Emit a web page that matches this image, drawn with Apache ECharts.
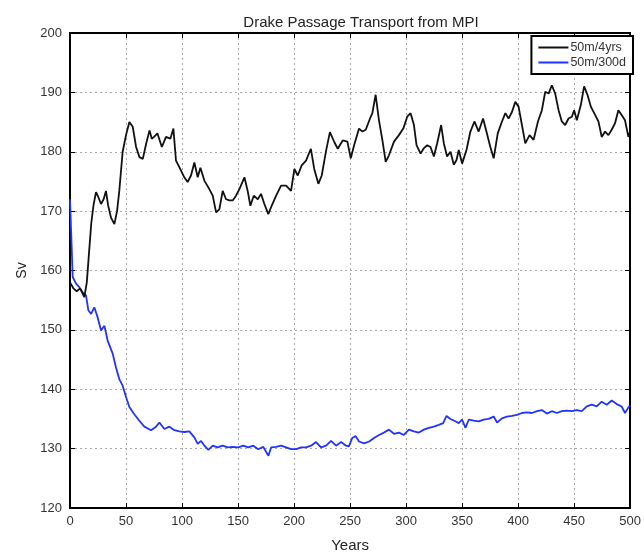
<!DOCTYPE html>
<html>
<head>
<meta charset="utf-8">
<script src="https://cdn.jsdelivr.net/npm/echarts@6/dist/echarts.min.js"></script>
<style>html,body{margin:0;padding:0;background:#fff;}#c{width:644px;height:558px;}</style>
</head>
<body>
<div id="c"></div>
<script>
var titleText = 'Drake Passage Transport from MPI';
var xTicks = [0, 50, 100, 150, 200, 250, 300, 350, 400, 450, 500];
var yTicks = [120, 130, 140, 150, 160, 170, 180, 190, 200];
var seriesNames = ['50m/4yrs', '50m/300d'];

var blackYears = [0,3,6,9,12.8,15,17,19,21,23.2,25,27.7,30,32.1,34,36.6,39.6,42,44,47,50,53,56,59,62,65,68,71,73,75,78,82,85.7,89.6,92.3,94.6,97.6,102,105,108,111,114,116.4,120,123.5,127.4,130.4,133.3,136.3,139.3,142.3,145.2,148.2,151.2,155.7,158.6,161,164,167.6,170.5,173.5,177,180,184,188.4,192.9,197.3,200.3,203.3,206.8,210.7,215,218,221.7,224.7,228.6,232,236,239,243.4,247.6,250.6,253.6,258,261,264,267.8,269.9,272.8,275.8,278.8,281.8,284.7,289.2,293.6,297.5,301,304,307,309.3,312.9,315.9,318.9,321.8,324.8,327.7,331.3,333.7,336.6,339.6,342.6,345,347,350,353.9,357.4,361,364.8,368.7,371.7,375.2,378.2,381.8,385.6,388.6,391.5,394.5,397.5,400.4,403.4,406.4,410.2,413.8,417.7,421.2,424.2,427.2,430.1,433.1,436.1,439,442,445,448,450,452.4,456,458.9,461.9,464.9,468.7,471.7,474.6,477.6,480.6,483.5,486.5,489.5,492.4,495.4,498.4,500];
var blackValues = [158,157,156.5,157,155.5,158,163,168,171,173.2,172.5,171.2,172,173.4,171,168.9,167.8,170,173.4,180,182.8,185,184.2,180.8,179.1,178.8,181.4,183.6,182.2,182.5,183.1,180.8,182.5,182.2,183.9,178.5,177.4,175.7,174.9,176,178.2,175.7,177.3,175.1,174,172.6,169.8,170.3,173.4,172,171.8,171.8,172.6,173.7,175.7,173.4,170.9,172.6,172,172.9,171.2,169.5,170.9,172.6,174.3,174.3,173.4,177.1,176,177.7,178.5,180.5,177.1,174.6,176,180.2,183.3,181.6,180.5,181.9,181.7,178.9,181.1,183.9,183.4,183.7,185.6,186.5,189.6,185.3,182,178.3,179.4,181.7,182.8,183.9,185.9,186.5,184.5,181.1,179.7,180.6,181.1,180.8,179.2,181.4,184.5,181.4,179.2,180,177.8,178.6,180.3,178,180.3,183.4,185.1,183.4,185.6,183.4,180.8,178.9,183.1,185.1,186.5,185.6,186.7,188.4,187.6,184.5,181.4,182.8,182,185.1,187,190.1,189.8,191.2,189.8,187,185.1,184.5,185.6,185.9,187,185.3,187.9,191,189.6,187.6,186.2,185.1,182.5,183.4,182.8,183.7,184.8,187,186.2,185.3,182.5,183.5];

var blueYears = [0,0.3,1.5,2.4,5.4,8.3,11.3,14.3,16.4,18.8,21.7,24.7,27.7,30.7,33.6,38.1,41,44,47,50,53,57.4,61.9,66.4,72.3,76.8,79.8,84.2,88.7,93.2,97.6,102,106.5,111,114,117,120,123.5,127.4,131.8,136.3,140.8,145.2,150.2,154.7,159.1,163.6,168,172.5,177.1,179.5,184,188.4,192.9,197.3,201.8,206.3,210.7,215.2,219.6,224.1,228.6,233,237.5,242,246.4,249,252,255,258,262.5,267,271.4,275.8,280.3,284.7,289.2,293.6,298,302.5,307,311.4,315.9,320.3,324.8,329.2,333.1,336.1,339.6,344,347,350,353,356,360.4,364.8,369.3,373.7,378.2,381.2,385.6,390,394.5,399,403.4,407.9,412.3,416.8,421.2,425.7,430.1,434.6,439,443.5,447.9,452.4,456.8,461.3,465.7,470.2,474.6,479.1,483.5,488,492.4,495.4,499.3,500];
var blueValues = [172,171.8,163.9,158.9,157.8,157.2,156.3,155.8,153.3,152.7,153.8,152.1,149.9,150.7,148.2,146,143.7,141.7,140.6,138.7,137,135.8,134.7,133.7,133.1,133.7,134.4,133.3,133.7,133.1,132.9,132.8,132.9,131.9,130.8,131.3,130.5,129.8,130.5,130.2,130.5,130.2,130.3,130.2,130.5,130.2,130.5,129.9,130.3,128.8,130.2,130.3,130.5,130.2,129.9,129.9,130.2,130.2,130.5,131.1,130.2,130.5,131.3,130.5,131.1,130.5,130.4,131.8,132.1,131.2,130.9,131.2,131.8,132.3,132.7,133.2,132.5,132.7,132.3,133.2,132.9,132.7,133.2,133.5,133.7,134,134.3,135.5,135,134.6,134.3,134.9,133.5,134.9,134.7,134.6,134.9,135,135.4,134.4,135.1,135.4,135.5,135.7,136,136.1,136,136.3,136.5,135.9,136.3,136,136.3,136.4,136.3,136.5,136.3,137.1,137.4,137.1,137.9,137.4,138.1,137.5,137.1,136,137.2,137];

function pairs(xs, ys) { return xs.map(function (x, i) { return [x, ys[i]]; }); }

var chart = echarts.init(document.getElementById('c'), null, {renderer: 'canvas'});
var font = 'Liberation Sans, Arial, sans-serif';
var commonX = {type: 'value', min: xTicks[0], max: xTicks[xTicks.length - 1], interval: 50};
var commonY = {type: 'value', min: yTicks[0], max: yTicks[yTicks.length - 1], interval: 10};
var gridLine = {show: true, showMinLine: false, showMaxLine: false, lineStyle: {type: [2, 3], color: '#aaaaaa'}};
var frameLine = {show: true, onZero: false, lineStyle: {color: '#000', width: 2}};
var innerTick = {show: true, inside: true, length: 5, lineStyle: {color: '#000', width: 1}};
chart.setOption({
  animation: false,
  backgroundColor: '#fff',
  title: {
    text: titleText, left: 356, top: 10, textAlign: 'center',
    textStyle: {fontFamily: font, fontSize: 15, fontWeight: 'normal', color: '#222'}
  },
  legend: {
    data: seriesNames, orient: 'vertical', right: 11, top: 36,
    backgroundColor: '#fff', borderColor: '#000', borderWidth: 2,
    padding: [5, 7, 5, 7], itemGap: 2, itemWidth: 30, itemHeight: 2, icon: 'rect',
    textStyle: {fontFamily: font, fontSize: 12.5, color: '#333', padding: [0, 0, 0, -3]}
  },
  grid: {left: 70, right: 13, top: 33, bottom: 49, show: false},
  xAxis: [
    Object.assign({}, commonX, {
      position: 'bottom', name: 'Years', nameLocation: 'middle', nameGap: 30,
      nameTextStyle: {fontFamily: font, fontSize: 15, color: '#222'},
      axisLine: frameLine, axisTick: innerTick,
      axisLabel: {fontFamily: font, fontSize: 13, color: '#333', margin: 7},
      splitLine: gridLine
    }),
    Object.assign({}, commonX, {
      position: 'top', axisLine: frameLine, axisTick: innerTick,
      axisLabel: {show: false}, splitLine: {show: false}
    })
  ],
  yAxis: [
    Object.assign({}, commonY, {
      position: 'left', name: 'Sv', nameLocation: 'middle', nameGap: 41, nameRotate: 90,
      nameTextStyle: {fontFamily: font, fontSize: 14, color: '#222'},
      axisLine: frameLine, axisTick: innerTick,
      axisLabel: {fontFamily: font, fontSize: 13, color: '#333', margin: 8},
      splitLine: gridLine
    }),
    Object.assign({}, commonY, {
      position: 'right', axisLine: frameLine, axisTick: innerTick,
      axisLabel: {show: false}, splitLine: {show: false}
    })
  ],
  series: [
    {
      name: seriesNames[0], type: 'line', data: pairs(blackYears, blackValues),
      showSymbol: false, symbol: 'none', lineStyle: {color: '#111', width: 1.8}, itemStyle: {color: '#111'}, z: 3
    },
    {
      name: seriesNames[1], type: 'line', data: pairs(blueYears, blueValues),
      showSymbol: false, symbol: 'none', lineStyle: {color: '#2233ff', width: 1.8}, itemStyle: {color: '#2233ff'}, z: 2
    }
  ]
});
</script>
</body>
</html>
